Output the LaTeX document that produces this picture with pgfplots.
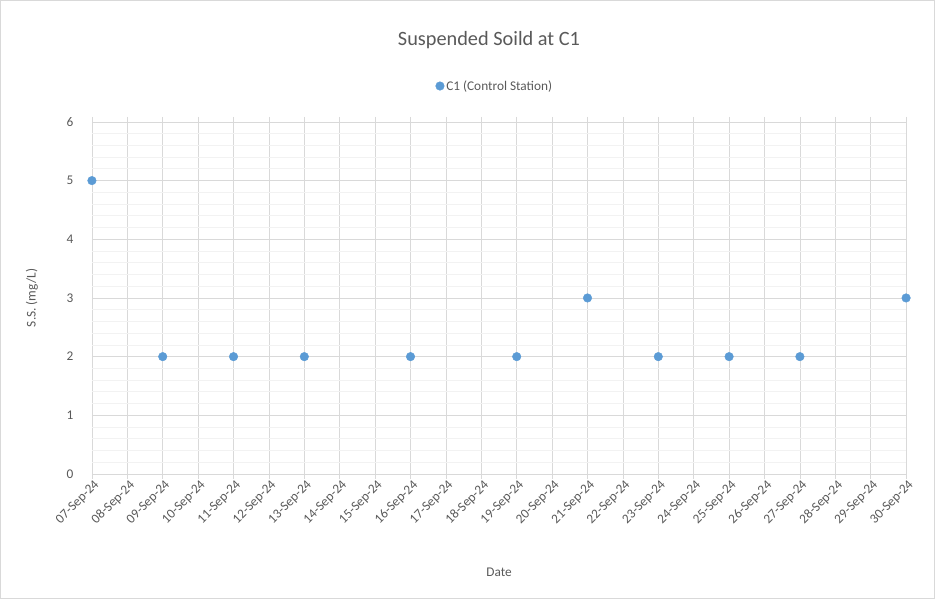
\documentclass[border=0pt]{standalone}
\usepackage{pgfplots}
\pgfplotsset{compat=1.18}
\usepackage{fontspec}
\setmainfont{Carlito}
\definecolor{txt}{HTML}{595959}
\definecolor{majg}{HTML}{D9D9D9}
\definecolor{ming}{HTML}{F2F2F2}
\definecolor{ser}{HTML}{5B9BD5}
\begin{document}
\begin{tikzpicture}[x=1pt,y=1pt]
\draw[majg, line width=0.8pt] (0.5,0.5) rectangle (934.5,598.5);
\node[text=txt, font=\fontsize{20.3}{24}\selectfont] at (489,559) {Suspended Soild at C1};
\begin{axis}[
  at={(92pt,125pt)}, anchor=south west,
  scale only axis, width=814pt, height=352pt,
  xmin=0, xmax=23, ymin=0, ymax=6,
  xtick={0,...,23},
  xticklabels={07-Sep-24,08-Sep-24,09-Sep-24,10-Sep-24,11-Sep-24,12-Sep-24,13-Sep-24,14-Sep-24,15-Sep-24,16-Sep-24,17-Sep-24,18-Sep-24,19-Sep-24,20-Sep-24,21-Sep-24,22-Sep-24,23-Sep-24,24-Sep-24,25-Sep-24,26-Sep-24,27-Sep-24,28-Sep-24,29-Sep-24,30-Sep-24},
  ytick={0,...,6},
  minor y tick num=4,
  xmajorgrids, ymajorgrids, yminorgrids,
  major grid style={majg, line width=0.8pt},
  minor grid style={ming, line width=0.8pt},
  axis line style={draw=none},
  tick align=outside,
  major tick length=5pt,
  xtick style={majg, line width=0.8pt},
  ytick style={draw=none},
  minor tick length=0pt,
  /pgf/number format/assume math mode=true,
  tick label style={text=txt, font=\fontsize{13.3}{15}\selectfont},
  xticklabel style={rotate=45, anchor=north east, inner sep=1pt, xshift=2pt},
  yticklabel style={xshift=-10pt},
  xlabel={Date}, ylabel={S.S. (mg/L)},
  label style={text=txt, font=\fontsize{13.3}{15}\selectfont},
  xlabel style={at={(axis description cs:0.5,-0.278)}, anchor=center},
  ylabel style={at={(axis description cs:-0.0737,0.5)}, anchor=center, rotate=0},
  legend style={at={(axis description cs:0.495,1.102)}, anchor=center, draw=none, fill=none,
    font=\fontsize{13.3}{15}\selectfont, text=txt, inner sep=1pt},
  legend cell align=left,
  legend image code/.code={\draw[mark repeat=2,mark phase=2] plot coordinates {(0cm,0cm) (0.12cm,0cm) (0.24cm,0cm)};},
  clip=false,
]
\addplot[only marks, mark=*, mark size=4.3pt, ser, mark options={draw=ser, fill=ser}]
  coordinates {(0,5) (2,2) (4,2) (6,2) (9,2) (12,2) (14,3) (16,2) (18,2) (20,2) (23,3)};
\addlegendentry{C1 (Control Station)}
\end{axis}
\end{tikzpicture}
\end{document}
